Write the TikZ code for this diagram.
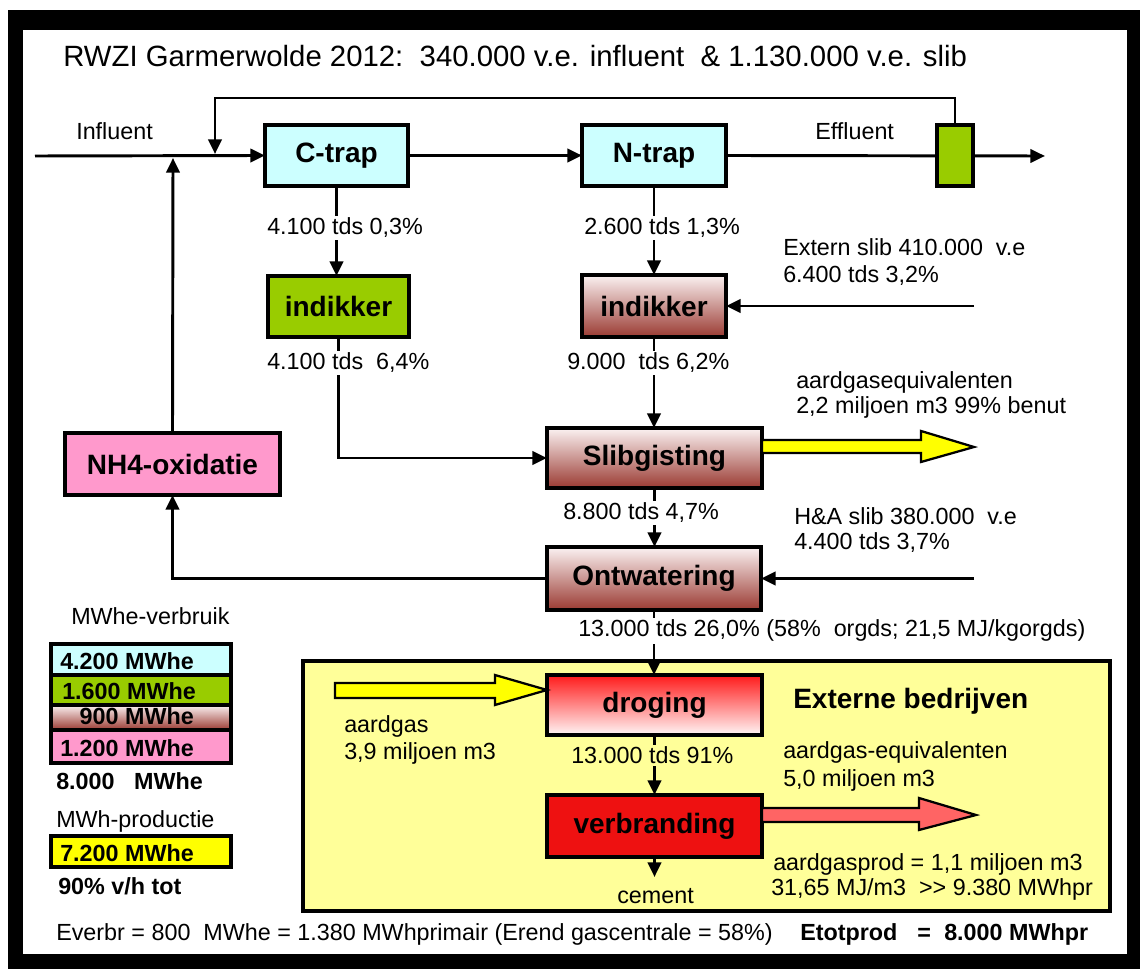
\documentclass[tikz,border=0pt]{standalone}
\usepackage{fontspec}
\setmainfont{Liberation Sans}
\usetikzlibrary{calc,arrows.meta}
\definecolor{cyanb}{HTML}{CCFFFF}
\definecolor{greenb}{HTML}{99CC00}
\definecolor{pinkb}{HTML}{FF99CC}
\definecolor{extyel}{HTML}{FFFF99}
\definecolor{arryel}{HTML}{FFFF00}
\definecolor{brtop}{HTML}{FBF2F2}
\definecolor{brbot}{HTML}{9A3A32}
\definecolor{redtop}{HTML}{FF1A1A}
\definecolor{redbot}{HTML}{FFF6F6}
\definecolor{verbred}{HTML}{EE1111}
\definecolor{arrred}{HTML}{FF6464}
\begin{document}
\begin{tikzpicture}[x=0.75pt,y=-0.75pt,
  sz/.style 2 args={minimum width=#1*0.75pt,minimum height=#2*0.75pt},
  box/.style={draw=black,line width=2.3pt,inner sep=0pt,outer sep=0pt,font=\fontsize{21}{25}\selectfont\bfseries},
  legbox/.style={draw=black,line width=2.3pt,inner sep=0pt,outer sep=0pt,anchor=north west},
  conn/.style={line width=2.2pt,-{Triangle[length=11pt,width=10pt]}},
  blockarr/.style={draw=black,line width=1.7pt,line join=miter},
  txt/.style={anchor=base west,inner sep=0pt,font=\fontsize{17.5}{21}\selectfont},
  lbl/.style={anchor=base west,inner sep=1.5pt,fill=white,font=\fontsize{17.5}{21}\selectfont},
  legt/.style={anchor=base west,inner sep=0pt,font=\fontsize{17.5}{21}\selectfont\bfseries},
  boldt/.style={anchor=base west,inner sep=0pt,font=\fontsize{17.5}{21}\selectfont\bfseries}
]
\useasboundingbox (0,0) rectangle (1140,969);
\fill[white] (0,0) rectangle (1140,969);
\fill[black] (8,10) rectangle (1140,969);
\fill[white] (23,30) rectangle (1127,954);

% title
\node[anchor=base west,inner sep=0pt,font=\fontsize{22}{26}\selectfont] (title) at (63,67)
  {RWZI Garmerwolde 2012:\ \ 340.000 v.e. influent\ \ \& 1.130.000 v.e. slib};

% external companies area
\node[draw=black,line width=2.3pt,fill=extyel,inner sep=0pt,outer sep=0pt,sz={807}{250}] (ext) at (706.5,786) {};

% process boxes
\node[box,fill=cyanb,sz={143}{61}] (ctrap) at (336.5,155.5) {C-trap};
\node[box,fill=cyanb,sz={144}{61}] (ntrap) at (654,155.5) {N-trap};
\node[box,fill=greenb,sz={141}{61}] (gindik) at (338.5,306.5) {indikker};
\node[box,top color=brtop,bottom color=brbot,sz={144}{62}] (bindik) at (654,306) {indikker};
\node[box,top color=brtop,bottom color=brbot,sz={215}{60}] (slib) at (654.5,458) {Slibgisting};
\node[box,fill=pinkb,sz={215}{62}] (nh4) at (172.5,464) {NH4-oxidatie};
\node[box,top color=brtop,bottom color=brbot,sz={214}{63}] (ontw) at (654,578.5) {Ontwatering};
\node[box,top color=redtop,bottom color=redbot,sz={215}{60}] (drog) at (654.5,705) {droging};
\node[box,fill=verbred,sz={215}{62}] (verb) at (654.5,826) {verbranding};

% free ends
\coordinate (instart) at (35,156);
\coordinate (outend) at (1045,156);
\coordinate (fbcorner) at (215,98);
\coordinate (fbin) at (215,154);
\coordinate (upin) at (173,158);
\coordinate (externin) at (974,306);
\coordinate (hain) at (974,578.5);
\coordinate (cementend) at (654.5,877);

% main water line
\draw[conn] (instart) -- (ctrap.west);
\draw[conn] (ctrap.east) -- (ntrap.west);
\draw[conn] (ntrap.east) -- (outend);
\node[box,fill=greenb,sz={36}{61}] (effbox) at (955,155.5) {};
\draw[conn] (effbox.north) |- (fbcorner) -- (fbin);
\draw[conn] (nh4.north) -- (upin);

% sludge lines
\draw[conn] (ctrap.south) -- (ctrap.south |- gindik.north);
\draw[conn] (gindik.south) |- (slib.west);
\draw[conn] (ntrap.south) -- (bindik.north);
\draw[conn] (externin) -- (bindik.east);
\draw[conn] (bindik.south) -- (bindik.south |- slib.north);
\draw[conn] (slib.south) -- (slib.south |- ontw.north);
\draw[conn] (ontw.west) -| (nh4.south);
\draw[conn] (hain) -- (ontw.east);
\draw[conn] (ontw.south) -- (ontw.south |- drog.north);
\draw[conn] (drog.south) -- (drog.south |- verb.north);
\draw[conn] (verb.south) -- (cementend);

% block arrows
\draw[blockarr,fill=arryel] ($(slib.east)+(0,-18)$) -- (921,440) -- (921,431) -- (974,447)
  -- (921,462) -- (921,453) -- ($(slib.east)+(0,-5)$) -- cycle;
\draw[blockarr,fill=arryel] (335,683) -- (495,683) -- (495,675) -- ($(drog.north west)+(0,15)$)
  -- (495,705) -- (495,698) -- (335,698) -- cycle;
\draw[blockarr,fill=arrred] ($(verb.east)+(0,-18)$) -- (919,808) -- (919,798) -- (976,815)
  -- (919,830) -- (919,822) -- ($(verb.east)+(0,-4)$) -- cycle;

% flow labels
\node[txt] (influent) at (76,140) {Influent};
\node[txt] (effluent) at (815,140) {Effluent};
\node[lbl] (l1) at (265,235) {4.100 tds 0,3\%};
\node[lbl] (l2) at (582,235) {2.600 tds 1,3\%};
\node[lbl] (l3) at (265,370) {4.100 tds\ \ 6,4\%};
\node[lbl] (l4) at (565,370) {9.000\ \ tds 6,2\%};
\node[txt] (ext1) at (783,256) {Extern slib 410.000\ \ v.e};
\node[txt] (ext2) at (783,283) {6.400 tds 3,2\%};
\node[txt] (gas1) at (796,389) {aardgasequivalenten};
\node[txt] (gas2) at (796,414) {2,2 miljoen m3 99\% benut};
\node[lbl] (l5) at (561,520) {8.800 tds 4,7\%};
\node[txt] (ha1) at (794,525) {H\&A slib 380.000\ \ v.e};
\node[txt] (ha2) at (794,550) {4.400 tds 3,7\%};
\node[lbl] (l6) at (576,637) {13.000 tds 26,0\% (58\%\ \ orgds; 21,5 MJ/kgorgds)};
\node[txt] (ag1) at (344,733) {aardgas};
\node[txt] (ag2) at (344,760) {3,9 miljoen m3};
\node[anchor=base west,inner sep=0pt,font=\fontsize{21}{25}\selectfont\bfseries] (extname) at (793,709) {Externe bedrijven};
\node[lbl,fill=extyel] (l7) at (569,764) {13.000 tds 91\%};
\node[txt] (eq1) at (783,759) {aardgas-equivalenten};
\node[txt] (eq2) at (783,787) {5,0 miljoen m3};
\node[txt] (pr1) at (773,870) {aardgasprod = 1,1 miljoen m3};
\node[txt] (pr2) at (771,895) {31,65 MJ/m3\ \ >{}> 9.380 MWhpr};
\node[txt] (cement) at (617,903) {cement};

% legend
\node[txt] (legtitle) at (71,625) {MWhe-verbruik};
\node[legbox,fill=cyanb,sz={180}{31}] (leg1) at (51,644) {};
\node[legbox,fill=greenb,sz={180}{30}] (leg2) at (51,675) {};
\node[legbox,top color=brtop,bottom color=brbot,sz={180}{25}] (leg3) at (51,705) {};
\node[legbox,fill=pinkb,sz={180}{33}] (leg4) at (51,730) {};
\node[legt] (lt1) at (60,670) {4.200 MWhe};
\node[legt] (lt2) at (62,700) {1.600 MWhe};
\node[legt] (lt3) at (60,725) {\phantom{4.}900 MWhe};
\node[legt] (lt4) at (60,757) {1.200 MWhe};
\node[legt] (ltot) at (56,790) {8.000\ \ \ MWhe};
\node[txt] (prodtitle) at (56,827) {MWh-productie};
\node[legbox,fill=arryel,sz={180}{31}] (leg5) at (51,836) {};
\node[legt] (lt5) at (60,861) {7.200 MWhe};
\node[legt] (lt6) at (58,894) {90\% v/h tot};

% bottom line
\node[txt] (bottom) at (56,940) {Everbr = 800\ \ MWhe = 1.380 MWhprimair (Erend gascentrale = 58\%)};
\node[boldt] (etot1) at (800,940) {Etotprod};
\node[boldt] (etot2) at (917,940) {=};
\node[boldt] (etot3) at (944,940) {8.000 MWhpr};
\end{tikzpicture}
\end{document}
